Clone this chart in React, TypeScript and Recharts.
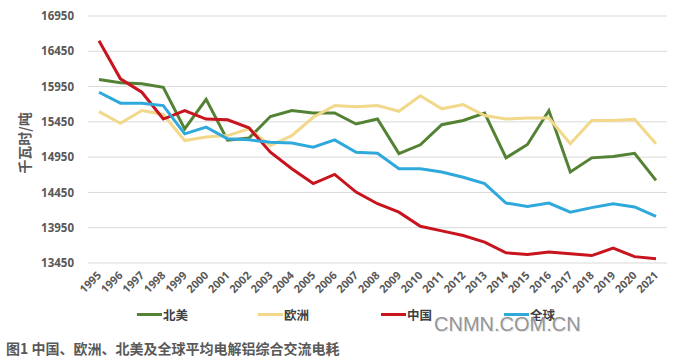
import React from 'react';
import { LineChart, Line, XAxis, YAxis, CartesianGrid } from 'recharts';

const years = [
  '1995', '1996', '1997', '1998', '1999', '2000', '2001', '2002', '2003', '2004',
  '2005', '2006', '2007', '2008', '2009', '2010', '2011', '2012', '2013', '2014',
  '2015', '2016', '2017', '2018', '2019', '2020', '2021',
];

// 北美
const northAmerica = [
  16050, 16005, 15990, 15940, 15350, 15770, 15190, 15220, 15525, 15610,
  15575, 15575, 15420, 15490, 15000, 15125, 15410, 15470, 15575, 14940,
  15130, 15610, 14740, 14940, 14960, 15005, 14620,
];
// 欧洲
const europe = [
  15595, 15430, 15610, 15555, 15185, 15235, 15255, 15350, 15115, 15255,
  15515, 15680, 15665, 15680, 15600, 15820, 15635, 15695, 15540, 15490,
  15505, 15505, 15140, 15470, 15470, 15485, 15140,
];
// 中国
const china = [
  16600, 16060, 15870, 15490, 15610, 15490, 15480, 15365, 15020, 14785,
  14575, 14705, 14455, 14290, 14170, 13970, 13905, 13840, 13745, 13595,
  13570, 13605, 13580, 13555, 13660, 13540, 13510,
];
// 全球
const world = [
  15870, 15715, 15715, 15680, 15280, 15375, 15210, 15195, 15160, 15150,
  15090, 15195, 15020, 15005, 14785, 14785, 14740, 14665, 14575, 14300,
  14250, 14300, 14170, 14235, 14290, 14245, 14110,
];

const yTicks = [13450, 13950, 14450, 14950, 15450, 15950, 16450, 16950];

const series = [
  { key: 'na', name: '北美', color: '#548235', values: northAmerica },
  { key: 'eu', name: '欧洲', color: '#f2d88a', values: europe },
  { key: 'cn', name: '中国', color: '#c8141e', values: china },
  { key: 'gl', name: '全球', color: '#2fa9dc', values: world },
];

const data = years.map((year, i) => {
  const row: Record<string, string | number> = { year };
  series.forEach((s) => {
    row[s.key] = s.values[i];
  });
  return row;
});

const FONT = '"Open Sans", "Noto Sans CJK SC", sans-serif';
const CJK = '"Noto Sans CJK SC", sans-serif';
const GREY = '#595959';

const YearTick = ({ x, y, payload }: any) => (
  <g transform={`translate(${x},${y})`}>
    <text
      x={3}
      y={0}
      textAnchor="end"
      transform="rotate(-45, 3, 0)"
      fill={GREY}
      fontSize={11}
      fontWeight={700}
      fontFamily={FONT}
    >
      {payload.value}
    </text>
  </g>
);

const legendLeft = [137, 258, 381, 504];

export default function App() {
  return (
    <div style={{ position: 'absolute', left: 0, top: 0, width: 677, height: 360, background: '#fff' }}>
      <LineChart
        width={677}
        height={360}
        data={data}
        margin={{ top: 16, right: 10, left: 0, bottom: 57 }}
      >
        <CartesianGrid vertical={false} stroke="#d9d9d9" strokeWidth={1} />
        <XAxis
          dataKey="year"
          height={40}
          interval={0}
          axisLine={false}
          tickLine={false}
          tickSize={0}
          tickMargin={13}
          padding={{ left: 11, right: 11 }}
          tick={<YearTick />}
        />
        <YAxis
          width={88}
          domain={[13450, 16950]}
          ticks={yTicks}
          interval={0}
          axisLine={false}
          tickLine={false}
          tickSize={0}
          tickMargin={14}
          tick={{ fill: GREY, fontSize: 11.5, fontWeight: 700, fontFamily: FONT }}
        />
        {series.map((s) => (
          <Line
            key={s.key}
            type="linear"
            dataKey={s.key}
            name={s.name}
            stroke={s.color}
            strokeWidth={3}
            dot={false}
            activeDot={false}
            isAnimationActive={false}
          />
        ))}
      </LineChart>

      <div
        style={{
          position: 'absolute',
          left: 24,
          top: 143,
          transform: 'translate(-50%, -50%) rotate(-90deg)',
          fontFamily: CJK,
          fontSize: 14,
          fontWeight: 700,
          color: GREY,
          whiteSpace: 'nowrap',
          lineHeight: 1,
        }}
      >
        千瓦时/吨
      </div>

      {series.map((s, i) => (
        <div
          key={s.key}
          style={{
            position: 'absolute',
            left: legendLeft[i],
            top: 306,
            display: 'flex',
            alignItems: 'center',
            height: 16,
            fontFamily: CJK,
            fontSize: 12.5,
            fontWeight: 700,
            color: '#404040',
          }}
        >
          <span style={{ display: 'inline-block', width: 25, height: 3, background: s.color, marginRight: 1 }} />
          <span>{s.name}</span>
        </div>
      ))}

      <div
        style={{
          position: 'absolute',
          left: 434,
          top: 314,
          fontFamily: '"Liberation Sans", Arial, sans-serif',
          fontSize: 20,
          lineHeight: 1,
          color: '#969696',
          textShadow: '1px 1px 0 #e6e6e6',
          whiteSpace: 'nowrap',
        }}
      >
        CNMN.COM.CN
      </div>

      <div
        style={{
          position: 'absolute',
          left: 6,
          top: 339,
          fontFamily: CJK,
          fontSize: 14,
          fontWeight: 700,
          lineHeight: 1.3,
          color: GREY,
          whiteSpace: 'nowrap',
        }}
      >
        图1 中国、欧洲、北美及全球平均电解铝综合交流电耗
      </div>
    </div>
  );
}
